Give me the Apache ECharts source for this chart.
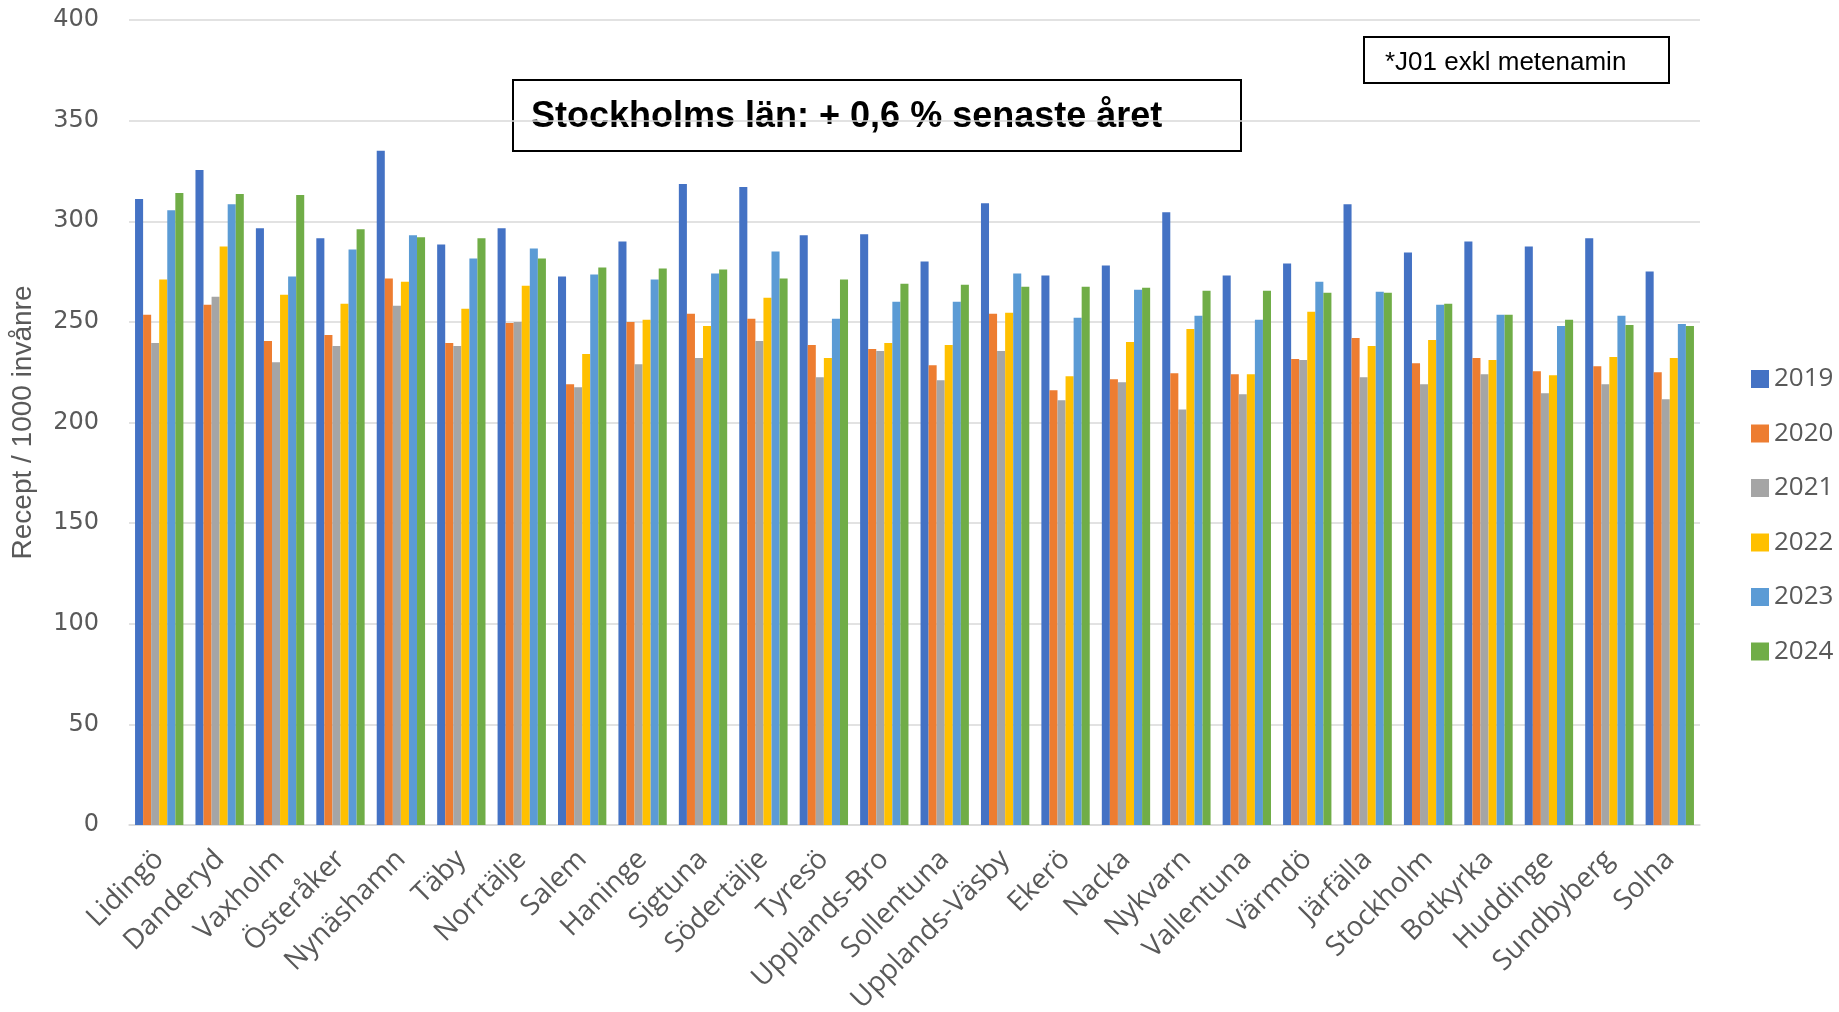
<!DOCTYPE html>
<html>
<head>
<meta charset="utf-8">
<script src="https://cdn.jsdelivr.net/npm/echarts@6/dist/echarts.min.js"></script>
<style>
  html, body { margin: 0; padding: 0; background: #fff; }
  #chart { width: 1839px; height: 1012px; }
</style>
</head>
<body>
<div id="chart"></div>
<script>
var kommuner = ['Lidingö', 'Danderyd', 'Vaxholm', 'Österåker', 'Nynäshamn', 'Täby', 'Norrtälje', 'Salem',
  'Haninge', 'Sigtuna', 'Södertälje', 'Tyresö', 'Upplands-Bro', 'Sollentuna', 'Upplands-Väsby', 'Ekerö',
  'Nacka', 'Nykvarn', 'Vallentuna', 'Värmdö', 'Järfälla', 'Stockholm', 'Botkyrka', 'Huddinge', 'Sundbyberg', 'Solna'];

var years = ['2019', '2020', '2021', '2022', '2023', '2024'];

var v2019 = [311, 325.5, 296.5, 291.5, 335, 288.5, 296.5, 272.5, 290, 318.5, 317, 293, 293.5, 280, 309, 273, 278, 304.5, 273, 279, 308.5, 284.5, 290, 287.5, 291.5, 275];
var v2020 = [253.5, 258.5, 240.5, 243.5, 271.5, 239.5, 249.5, 219, 250, 254, 251.5, 238.5, 236.5, 228.5, 254, 216, 221.5, 224.5, 224, 231.5, 242, 229.5, 232, 225.5, 228, 225];
var v2021 = [239.5, 262.5, 230, 238, 258, 238, 250, 217.5, 229, 232, 240.5, 222.5, 235.5, 221, 235.5, 211, 220, 206.5, 214, 231, 222.5, 219, 224, 214.5, 219, 211.5];
var v2022 = [271, 287.5, 263.5, 259, 270, 256.5, 268, 234, 251, 248, 262, 232, 239.5, 238.5, 254.5, 223, 240, 246.5, 224, 255, 238, 241, 231, 223.5, 232.5, 232];
var v2023 = [305.5, 308.5, 272.5, 286, 293, 281.5, 286.5, 273.5, 271, 274, 285, 251.5, 260, 260, 274, 252, 266, 253, 251, 270, 265, 258.5, 253.5, 248, 253, 249];
var v2024 = [314, 313.5, 313, 296, 292, 291.5, 281.5, 277, 276.5, 276, 271.5, 271, 269, 268.5, 267.5, 267.5, 267, 265.5, 265.5, 264.5, 264.5, 259, 253.5, 251, 248.5, 248];

var yearValues = [v2019, v2020, v2021, v2022, v2023, v2024];
var colors = ['#4472C4', '#ED7D31', '#A5A5A5', '#FFC000', '#5B9BD5', '#70AD47'];

var chartDom = document.getElementById('chart');
var myChart = echarts.init(chartDom, null, { renderer: 'canvas' });

var series = years.map(function (y, i) {
  return {
    name: y,
    type: 'bar',
    data: yearValues[i],
    barGap: '0%',
    barCategoryGap: '20%',
    itemStyle: { color: colors[i] },
    animation: false
  };
});

var option = {
  backgroundColor: '#ffffff',
  textStyle: { fontFamily: 'Liberation Sans, sans-serif' },
  grid: { left: 129, right: 139, top: 20, bottom: 187, containLabel: false, outerBoundsMode: 'none' },
  legend: {
    orient: 'vertical',
    left: 1746,
    top: 361,
    itemWidth: 18,
    itemHeight: 18,
    itemGap: 28.5,
    icon: 'rect',
    textStyle: { fontSize: 26, color: '#595959', fontFamily: 'Open Sans, sans-serif', lineHeight: 26 },
    data: years
  },
  xAxis: {
    type: 'category',
    data: kommuner,
    axisLine: { lineStyle: { color: '#D9D9D9', width: 1.5 } },
    axisTick: { show: false },
    axisLabel: {
      rotate: 45,
      interval: 0,
      margin: 30,
      fontSize: 28,
      color: '#595959',
      fontFamily: 'Open Sans, sans-serif'
    }
  },
  yAxis: {
    type: 'value',
    min: 0,
    max: 400,
    interval: 50,
    name: 'Recept / 1000 invånre',
    nameLocation: 'middle',
    nameGap: 92,
    nameRotate: 90,
    nameTextStyle: { fontSize: 28, color: '#595959', fontFamily: 'Liberation Sans Narrow, Liberation Sans, sans-serif' },
    axisLine: { show: false },
    axisTick: { show: false },
    splitLine: { lineStyle: { color: '#D9D9D9', width: 1.5 } },
    axisLabel: { fontSize: 24, color: '#595959', margin: 30, fontFamily: 'DejaVu Sans, sans-serif' }
  },
  graphic: [
    {
      type: 'group',
      left: 512,
      top: 79,
      children: [
        { type: 'rect', shape: { x: 0, y: 0, width: 728, height: 71 }, style: { fill: '#fff', stroke: '#000', lineWidth: 2 } },
        { type: 'text', x: 18, y: 37, style: { text: 'Stockholms län: + 0,6 % senaste året', fontSize: 36, fontWeight: 'bold', fill: '#000', verticalAlign: 'middle', fontFamily: 'Liberation Sans, sans-serif' } }
      ]
    },
    {
      type: 'group',
      left: 1363,
      top: 36,
      children: [
        { type: 'rect', shape: { x: 0, y: 0, width: 305, height: 46 }, style: { fill: '#fff', stroke: '#000', lineWidth: 2 } },
        { type: 'text', x: 21, y: 26, style: { text: '*J01 exkl metenamin', fontSize: 26, fill: '#000', verticalAlign: 'middle', fontFamily: 'Liberation Sans, sans-serif' } }
      ]
    }
  ],
  series: series
};

myChart.setOption(option);
</script>
</body>
</html>
